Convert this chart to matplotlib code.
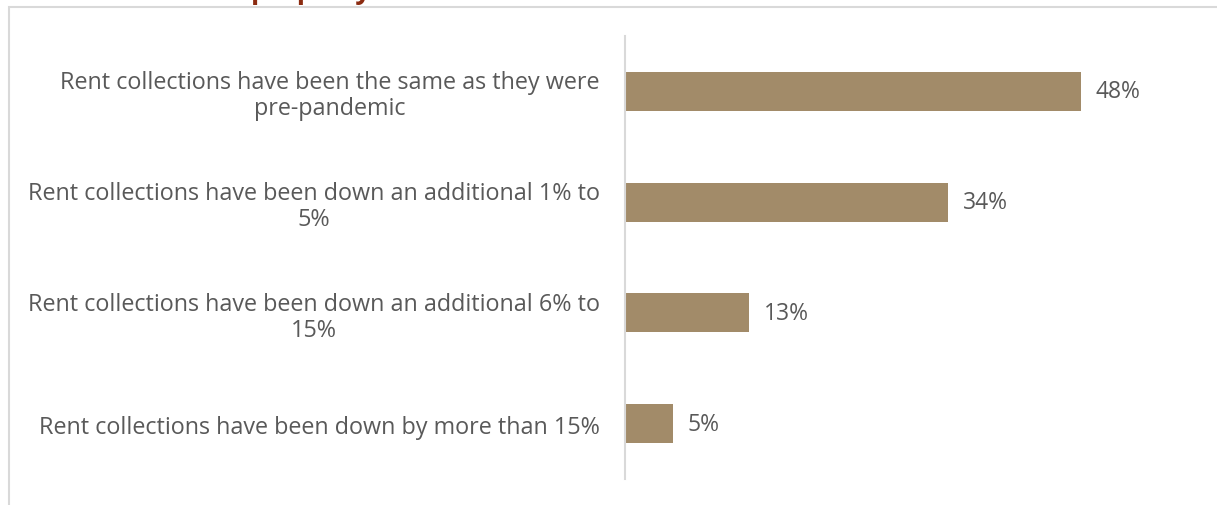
import matplotlib.pyplot as plt
from matplotlib.patches import Rectangle

# === DATA ===
categories = [
    "Rent collections have been the same as they were\npre-pandemic",
    "Rent collections have been down an additional 1% to\n5%",
    "Rent collections have been down an additional 6% to\n15%",
    "Rent collections have been down by more than 15%",
]
values = [48, 34, 13, 5]
value_labels = ["48%", "34%", "13%", "5%"]
title_fragment = "property"

# === STYLE ===
bar_color = "#A28B69"
text_color = "#595959"
frame_color = "#D9D9D9"
title_color = "#8B2B10"
plt.rcParams['font.family'] = ['Open Sans', 'DejaVu Sans']

W, H = 1217, 506
fig = plt.figure(figsize=(W / 100, H / 100), dpi=100)

# outer chart frame (cropped on right and bottom)
fig.patches.append(Rectangle((9 / W, -0.1), 1.2, 1 - 7.5 / H + 0.1,
                             transform=fig.transFigure, fill=False,
                             edgecolor=frame_color, linewidth=1.5))

# title mostly cut off above the picture, only descenders show
fig.text(251 / W, 1 + 1.5 / H, title_fragment, fontsize=20, fontweight='bold',
         color=title_color, ha='left', va='baseline')

# plot area: x from 625px, y from 37px to 480px
ax = fig.add_axes([625 / W, 1 - 480 / H, (1217 - 625) / W, (480 - 37) / H])
px_per_pct = 9.5
ax.set_xlim(0, (1217 - 625) / px_per_pct)
ax.set_ylim(len(values) - 0.5, -0.5)

y = list(range(len(values)))
ax.barh(y, values, height=0.35, color=bar_color, zorder=2)

for yi, v, lab in zip(y, values, value_labels):
    ax.annotate(lab, (v, yi), xytext=(15, 0), textcoords='offset pixels',
                ha='left', va='center', fontsize=16.5, color=text_color)

ax.set_yticks(y)
ax.set_yticklabels(categories, fontsize=16.8, color=text_color,
                   multialignment='center', linespacing=1.1)
ax.tick_params(axis='y', length=0, pad=18)
ax.set_xticks([])

for side in ['top', 'right', 'bottom']:
    ax.spines[side].set_visible(False)
ax.spines['left'].set_color(frame_color)
ax.spines['left'].set_linewidth(1.5)

fig.savefig('out.png', dpi=100)
